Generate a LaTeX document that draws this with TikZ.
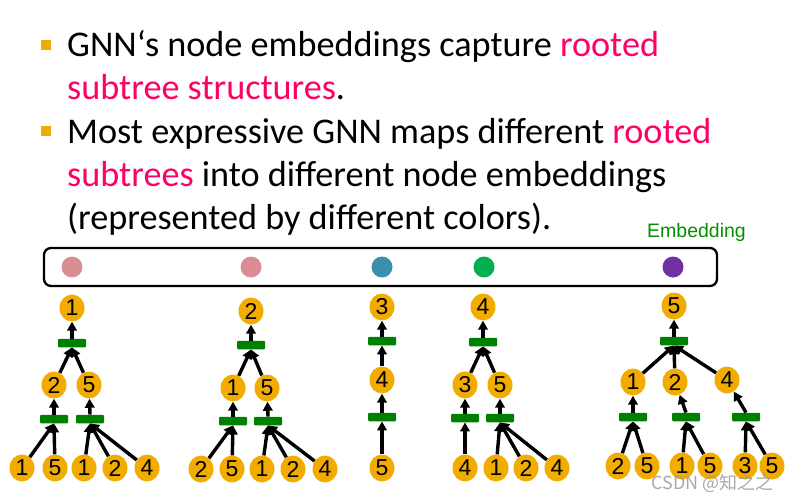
\documentclass[tikz,border=0pt]{standalone}
\usepackage{fontspec}
\setmainfont{Carlito}
\newfontfamily\arialf{Liberation Sans}
\newfontfamily\cjk{Noto Sans CJK SC}
\usetikzlibrary{shapes.geometric,arrows.meta}
\definecolor{hl}{HTML}{FF0066}
\definecolor{bulletor}{HTML}{F0AB00}
\definecolor{treeor}{HTML}{F2AC00}
\definecolor{bargreen}{HTML}{008000}
\definecolor{embgreen}{HTML}{009000}
\definecolor{dpink}{HTML}{D98E93}
\definecolor{dteal}{HTML}{3A8FAA}
\definecolor{dgreen}{HTML}{00B050}
\definecolor{dpurple}{HTML}{7030A0}
\begin{document}
\begin{tikzpicture}[x=1pt,y=-1pt,
  tn/.style={ellipse, fill=treeor, minimum width=25pt, minimum height=27pt, inner sep=0pt, font=\arialf\fontsize{23}{23}\selectfont},
  barbox/.style={rectangle, fill=bargreen, minimum width=28pt, minimum height=8.5pt, inner sep=0pt, rounded corners=1pt},
  arr/.style={-{Triangle[length=9pt,width=9.5pt]}, line width=3.4pt, black},
  dotc/.style={circle, minimum size=21pt, inner sep=0pt},
  bul/.style={rectangle, fill=bulletor, minimum size=10pt, inner sep=0pt},
  txt/.style={anchor=base west, inner sep=0pt, font=\fontsize{36.2}{43}\selectfont}]
\useasboundingbox (0,0) rectangle (789,500);

% bullets and text
\node[bul] (bu1) at (46,45) {};
\node[bul] (bu2) at (46,131) {};
\node[txt] (l1) at (67,57) {GNN‘s node embeddings capture \textcolor{hl}{rooted}};
\node[txt] (l2) at (67,100) {\textcolor{hl}{subtree structures}.};
\node[txt] (l3) at (67,143) {Most expressive GNN maps different \textcolor{hl}{rooted}};
\node[txt] (l4) at (67,186) {\textcolor{hl}{subtrees} into different node embeddings};
\node[txt] (l5) at (67,229) {(represented by different colors).};
\node[anchor=base west, inner sep=0pt, text=embgreen, font=\arialf\fontsize{19.5}{20}\selectfont] (emb) at (647,237) {Embedding};

% embedding box
\node[draw, line width=2.3pt, rounded corners=7pt, minimum width=673pt, minimum height=38pt, inner sep=0pt] (embbox) at (380.5,267) {};
\node[dotc, fill=dpink] (d1) at (72,267) {};
\node[dotc, fill=dpink] (d2) at (251,267) {};
\node[dotc, fill=dteal] (d3) at (382,267) {};
\node[dotc, fill=dgreen] (d4) at (484,267) {};
\node[dotc, fill=dpurple] (d5) at (673,267) {};

% Tree 1
\node[tn] (r1) at (72,308) {1};
\node[barbox] (b1) at (72,343) {};
\node[tn] (t1a) at (54,385) {2};
\node[tn] (t1b) at (89,385) {5};
\node[barbox] (b1a) at (54,419) {};
\node[barbox] (b1b) at (90,419) {};
\node[tn] (t1l1) at (22,468) {1};
\node[tn] (t1l2) at (55,468) {5};
\node[tn] (t1l3) at (84,468) {1};
\node[tn] (t1l4) at (115,468) {2};
\node[tn] (t1l5) at (147,468) {4};
\draw[arr] (b1.north) -- (r1);
\draw[arr] (t1a) -- (b1.south);
\draw[arr] (t1b) -- (b1.south);
\draw[arr] (b1a.north) -- (t1a);
\draw[arr] (b1b.north) -- (t1b);
\draw[arr] (t1l1) -- (b1a.south);
\draw[arr] (t1l2) -- (b1a.south);
\draw[arr] (t1l3) -- (b1b.south);
\draw[arr] (t1l4) -- (b1b.south);
\draw[arr] (t1l5) -- (b1b.south);

% Tree 2
\node[tn] (r2) at (251,311) {2};
\node[barbox] (b2) at (251,345) {};
\node[tn] (t2a) at (233,388) {1};
\node[tn] (t2b) at (267,388) {5};
\node[barbox] (b2a) at (233,421) {};
\node[barbox] (b2b) at (268,421) {};
\node[tn] (t2l1) at (201,469) {2};
\node[tn] (t2l2) at (232,469) {5};
\node[tn] (t2l3) at (262,469) {1};
\node[tn] (t2l4) at (293,469) {2};
\node[tn] (t2l5) at (325,469) {4};
\draw[arr] (b2.north) -- (r2);
\draw[arr] (t2a) -- (b2.south);
\draw[arr] (t2b) -- (b2.south);
\draw[arr] (b2a.north) -- (t2a);
\draw[arr] (b2b.north) -- (t2b);
\draw[arr] (t2l1) -- (b2a.south);
\draw[arr] (t2l2) -- (b2a.south);
\draw[arr] (t2l3) -- (b2b.south);
\draw[arr] (t2l4) -- (b2b.south);
\draw[arr] (t2l5) -- (b2b.south);

% Tree 3
\node[tn] (r3) at (382,307) {3};
\node[barbox] (b3) at (382,341) {};
\node[tn] (t3a) at (382,380) {4};
\node[barbox] (b3a) at (382,417) {};
\node[tn] (t3l1) at (382,468) {5};
\draw[arr] (b3.north) -- (r3);
\draw[arr] (t3a) -- (b3.south);
\draw[arr] (b3a.north) -- (t3a);
\draw[arr] (t3l1) -- (b3a.south);

% Tree 4
\node[tn] (r4) at (483,307) {4};
\node[barbox] (b4) at (483,342) {};
\node[tn] (t4a) at (465,385) {3};
\node[tn] (t4b) at (500,385) {5};
\node[barbox] (b4a) at (465,418) {};
\node[barbox] (b4b) at (500,418) {};
\node[tn] (t4l1) at (465,468) {4};
\node[tn] (t4l2) at (496,468) {1};
\node[tn] (t4l3) at (526,468) {2};
\node[tn] (t4l4) at (557,468) {4};
\draw[arr] (b4.north) -- (r4);
\draw[arr] (t4a) -- (b4.south);
\draw[arr] (t4b) -- (b4.south);
\draw[arr] (b4a.north) -- (t4a);
\draw[arr] (b4b.north) -- (t4b);
\draw[arr] (t4l1) -- (b4a.south);
\draw[arr] (t4l2) -- (b4b.south);
\draw[arr] (t4l3) -- (b4b.south);
\draw[arr] (t4l4) -- (b4b.south);

% Tree 5
\node[tn] (r5) at (674,306) {5};
\node[barbox] (b5) at (674,341) {};
\node[tn] (t5a) at (633,382) {1};
\node[tn] (t5b) at (675,382) {2};
\node[tn] (t5c) at (727,380) {4};
\node[barbox] (b5a) at (633,417) {};
\node[barbox] (b5b) at (686,417) {};
\node[barbox] (b5c) at (746,417) {};
\node[tn] (t5l1) at (618,466) {2};
\node[tn] (t5l2) at (647,466) {5};
\node[tn] (t5l3) at (682,466) {1};
\node[tn] (t5l4) at (710,466) {5};
\node[tn] (t5l5) at (745,466) {3};
\node[tn] (t5l6) at (772,466) {5};
\draw[arr] (b5.north) -- (r5);
\draw[arr] (t5a) -- (b5.south);
\draw[arr] (t5b) -- (b5.south);
\draw[arr] (t5c) -- (b5.south);
\draw[arr] (b5a.north) -- (t5a);
\draw[arr] (b5b.north) -- (t5b);
\draw[arr] (b5c.north) -- (t5c);
\draw[arr] (t5l1) -- (b5a.south);
\draw[arr] (t5l2) -- (b5a.south);
\draw[arr] (t5l3) -- (b5b.south);
\draw[arr] (t5l4) -- (b5b.south);
\draw[arr] (t5l5) -- (b5c.south);
\draw[arr] (t5l6) -- (b5c.south);

% watermark
\node[anchor=base east, inner sep=0pt, text=gray!80, opacity=0.85, font=\cjk\fontsize{18}{18}\selectfont] (wm) at (774,489) {CSDN @知之之};
\end{tikzpicture}
\end{document}
